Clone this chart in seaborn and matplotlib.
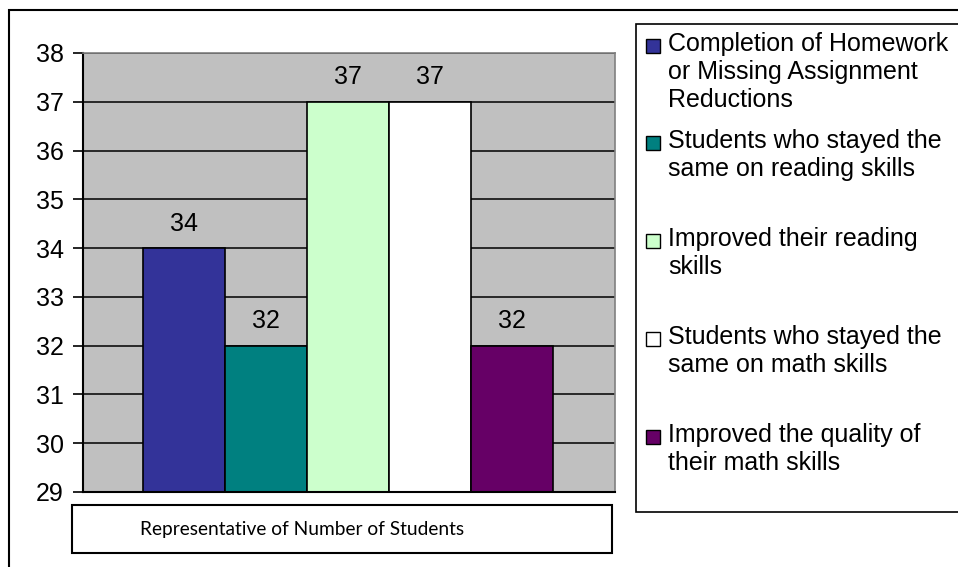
import seaborn as sns
import matplotlib.pyplot as plt
from matplotlib.patches import Rectangle

# данные
categories = ["Completion of Homework\nor Missing Assignment\nReductions",
              "Students who stayed the\nsame on reading skills",
              "Improved their reading\nskills",
              "Students who stayed the\nsame on math skills",
              "Improved the quality of\ntheir math skills"]
values = [34, 32, 37, 37, 32]
colors = ["#333399", "#008080", "#CCFFCC", "#FFFFFF", "#660066"]
y_ticks = list(range(29, 39))
x_title = "Representative of Number of Students"

sns.set_style("white")
plt.rcParams['font.family'] = ['Liberation Sans', 'DejaVu Sans']
plt.rcParams['text.color'] = 'black'
plt.rcParams['ytick.labelcolor'] = 'black'

W, H = 958, 567
fx = lambda px: px / W
fy = lambda py: 1 - py / H

fig = plt.figure(figsize=(W / 100, H / 100), dpi=100)
ax = fig.add_axes([fx(83), fy(492), fx(615) - fx(83), fy(53) - fy(492)])

sns.barplot(x=categories, y=values, hue=categories, palette=colors,
            width=1.0, edgecolor='black', linewidth=1.2, legend=False,
            saturation=1, ax=ax)

ax.set_facecolor('#C0C0C0')
ax.set_ylim(29, 38)
ax.set_xlim(-0.5 - 60 / 82, 4.5 + 62 / 82)
ax.set_yticks(y_ticks)
ax.set_xticks([])
ax.set_xlabel('')
ax.set_ylabel('')
ax.tick_params(axis='y', labelsize=18, length=7, width=1.2, color='black',
               labelcolor='black', pad=7, left=True)
ax.yaxis.grid(True, color='black', linewidth=1.1)
ax.set_axisbelow(True)
for s in ['top', 'right']:
    ax.spines[s].set_color('#808080')
    ax.spines[s].set_linewidth(1.2)
for s in ['left', 'bottom']:
    ax.spines[s].set_color('black')
    ax.spines[s].set_linewidth(1.5)

# подписи над столбцами
for cont in ax.containers:
    ax.bar_label(cont, fmt='%d', padding=9, fontsize=18, color='black')

# рамка вокруг всей картинки
fig.add_artist(Rectangle((fx(9), fy(620)), 2, fy(10) - fy(620), fill=False,
                         edgecolor='black', linewidth=1.5,
                         transform=fig.transFigure, clip_on=False))

# подпись оси X в рамке
fig.add_artist(Rectangle((fx(72), fy(553)), fx(612) - fx(72), fy(505) - fy(553),
                         fill=True, facecolor='white', edgecolor='black',
                         linewidth=1.5, transform=fig.transFigure))
fig.text(fx(302), fy(530), x_title, ha='center', va='center',
         fontsize=13.8, family=['Lato', 'DejaVu Sans'], color='black')

# легенда вручную
fig.add_artist(Rectangle((fx(636), fy(512)), 2, fy(24) - fy(512), fill=True,
                         facecolor='white', edgecolor='black', linewidth=1.2,
                         transform=fig.transFigure))
line1 = [46, 143, 241, 339, 437]
for lab, col, yc in zip(categories, colors, line1):
    fig.add_artist(Rectangle((fx(646), fy(yc + 7)), fx(660) - fx(646),
                             fy(yc - 7) - fy(yc + 7), facecolor=col,
                             edgecolor='black', linewidth=1.0,
                             transform=fig.transFigure))
    fig.text(fx(668), fy(yc - 14), lab, ha='left', va='top', fontsize=18,
             linespacing=1.22, color='black')

fig.savefig('out.png', dpi=100)
